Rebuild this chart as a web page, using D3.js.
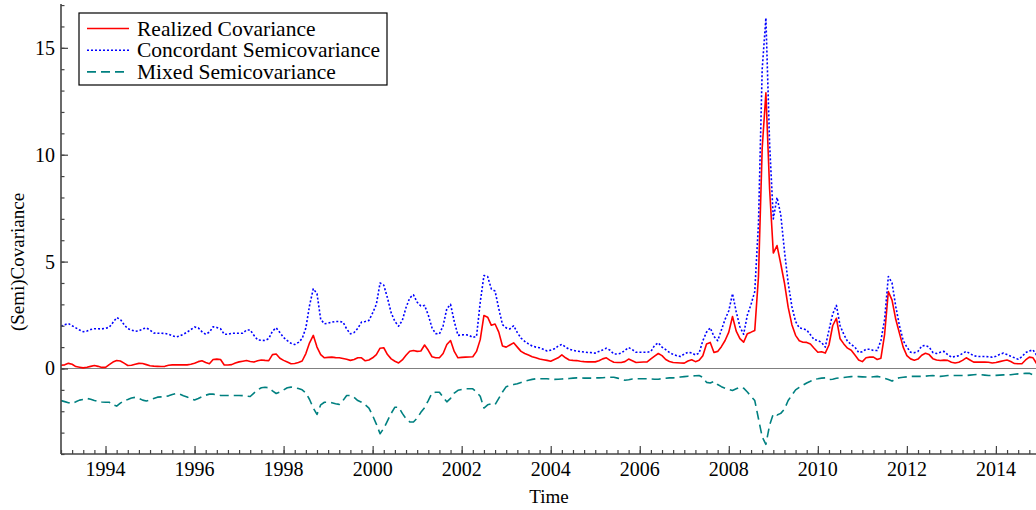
<!DOCTYPE html>
<html>
<head>
<meta charset="utf-8">
<script src="https://cdn.jsdelivr.net/npm/d3@7"></script>
<style>
  html, body { margin: 0; padding: 0; background: #fff; }
  #chart { width: 1036px; height: 510px; }
  text { font-family: "Liberation Serif", "Times New Roman", serif; fill: #000; }
</style>
</head>
<body>
<div id="chart"></div>
<script>
// monthly series, first point Jan 1993
const startYear = 1993;

const realized = [
  0.15, 0.17, 0.24, 0.2, 0.09, 0.06, 0.03, 0.06, 0.1, 0.14,
  0.1, 0.05, 0.05, 0.18, 0.3, 0.37, 0.35, 0.25, 0.14, 0.15,
  0.2, 0.24, 0.23, 0.18, 0.13, 0.11, 0.1, 0.09, 0.1, 0.15,
  0.17, 0.17, 0.17, 0.17, 0.17, 0.2, 0.25, 0.32, 0.36, 0.28,
  0.22, 0.42, 0.44, 0.42, 0.16, 0.16, 0.18, 0.26, 0.31, 0.34,
  0.37, 0.33, 0.3, 0.36, 0.4, 0.38, 0.37, 0.65, 0.68, 0.48,
  0.38, 0.3, 0.22, 0.23, 0.28, 0.35, 0.7, 1.2, 1.55, 1.0,
  0.65, 0.5, 0.52, 0.53, 0.51, 0.5, 0.47, 0.43, 0.38, 0.42,
  0.5, 0.5, 0.36, 0.4, 0.5, 0.65, 0.95, 0.97, 0.65, 0.45,
  0.34, 0.26, 0.4, 0.62, 0.81, 0.84, 0.8, 0.82, 1.1, 0.85,
  0.55, 0.5, 0.5, 0.7, 1.12, 1.31, 0.8, 0.5, 0.52, 0.53,
  0.54, 0.55, 0.8, 1.35, 2.48, 2.4, 2.02, 2.08, 1.7, 1.05,
  1.0, 1.1, 1.2, 1.0, 0.8, 0.7, 0.63, 0.55, 0.5, 0.44,
  0.41, 0.38, 0.34, 0.42, 0.5, 0.64, 0.5, 0.4, 0.38, 0.37,
  0.34, 0.32, 0.31, 0.31, 0.31, 0.36, 0.45, 0.5, 0.38, 0.29,
  0.28, 0.28, 0.32, 0.44, 0.36, 0.28, 0.29, 0.3, 0.31, 0.45,
  0.58, 0.7, 0.6, 0.42, 0.33, 0.28, 0.27, 0.26, 0.25, 0.35,
  0.41, 0.32, 0.38, 0.6, 1.15, 1.22, 0.75, 0.8, 1.02, 1.31,
  1.7, 2.43, 1.75, 1.4, 1.23, 1.63, 1.7, 1.78, 4.3, 10.3,
  12.9, 8.4, 5.4, 5.75, 4.9, 4.0, 2.87, 2.05, 1.55, 1.3,
  1.23, 1.22, 1.15, 0.95, 0.76, 0.78, 0.72, 1.1, 2.0, 2.35,
  1.39, 1.15, 0.95, 0.85, 0.63, 0.4, 0.32, 0.5, 0.53, 0.53,
  0.42, 0.48, 1.6, 3.6, 3.2, 2.3, 1.65, 1.0, 0.6, 0.45,
  0.39, 0.44, 0.62, 0.71, 0.65, 0.46, 0.4, 0.37, 0.39, 0.38,
  0.29, 0.26, 0.29, 0.38, 0.5, 0.4, 0.3, 0.3, 0.3, 0.3,
  0.29, 0.26, 0.28, 0.32, 0.36, 0.4, 0.33, 0.23, 0.22, 0.22,
  0.4, 0.53, 0.5, 0.22
];

const concordant = [
  1.98, 2.05, 2.1, 2.0, 1.9, 1.8, 1.72, 1.75, 1.82, 1.86,
  1.86, 1.85, 1.88, 1.93, 2.15, 2.38, 2.3, 2.05, 1.86, 1.8,
  1.74, 1.76, 1.85, 1.9, 1.8, 1.66, 1.65, 1.65, 1.64, 1.6,
  1.53, 1.48, 1.52, 1.6, 1.7, 1.82, 1.94, 1.9, 1.72, 1.6,
  1.7, 1.95, 1.92, 1.86, 1.6, 1.6, 1.65, 1.65, 1.65, 1.65,
  1.8, 1.8, 1.55, 1.34, 1.32, 1.31, 1.4, 1.75, 1.9, 1.68,
  1.45, 1.3, 1.18, 1.12, 1.22, 1.4, 1.9, 2.95, 3.73, 3.5,
  2.3, 2.09, 2.12, 2.17, 2.2, 2.2, 2.17, 1.85, 1.62, 1.68,
  1.88, 2.17, 2.2, 2.25, 2.6, 3.0, 4.0, 3.9, 3.3, 2.6,
  2.2, 1.98, 2.25, 2.85, 3.3, 3.45, 3.1, 2.92, 2.95, 2.5,
  1.9, 1.63, 1.62, 2.0, 2.8, 3.0, 2.2, 1.55, 1.57, 1.58,
  1.55, 1.45, 1.5, 3.1, 4.35, 4.3, 3.72, 3.62, 2.8, 2.05,
  1.9, 1.85, 2.0, 1.68, 1.42, 1.27, 1.15, 1.05, 1.0, 0.97,
  0.9, 0.82, 0.86, 0.92, 1.05, 1.13, 1.0, 0.9, 0.85, 0.81,
  0.79, 0.77, 0.75, 0.74, 0.72, 0.8, 0.87, 0.95, 0.85, 0.68,
  0.68, 0.72, 0.85, 0.98, 0.88, 0.76, 0.76, 0.76, 0.76, 0.8,
  1.08, 1.2, 1.0, 0.88, 0.75, 0.66, 0.6, 0.56, 0.68, 0.76,
  0.73, 0.63, 0.72, 1.3, 1.7, 1.9, 1.5, 1.3, 1.8, 2.3,
  2.7, 3.5, 2.65, 1.95, 1.6, 2.5, 3.0, 3.6, 6.8, 14.0,
  16.4, 10.5, 7.0, 8.0, 7.2, 5.5, 4.0, 2.9, 2.2, 1.9,
  1.86, 1.8, 1.58, 1.35, 1.31, 1.22, 1.0, 1.8, 2.55, 2.95,
  2.0, 1.6, 1.27, 1.12, 1.0, 0.75, 0.78, 0.9, 0.9, 0.84,
  0.84, 1.3, 2.3, 4.3, 4.0, 2.9, 2.0, 1.31, 1.0, 0.76,
  0.74, 0.8, 1.05, 1.08, 1.0, 0.75, 0.7, 0.76, 0.8, 0.65,
  0.53, 0.56, 0.6, 0.7, 0.8, 0.7, 0.6, 0.56, 0.56, 0.56,
  0.55, 0.53, 0.57, 0.66, 0.72, 0.65, 0.57, 0.5, 0.43, 0.55,
  0.74, 0.82, 0.87, 0.61
];

const mixed = [
  -1.5, -1.55, -1.6, -1.63, -1.56, -1.48, -1.45, -1.4, -1.44, -1.5,
  -1.53, -1.57, -1.58, -1.58, -1.7, -1.76, -1.62, -1.5, -1.45, -1.38,
  -1.35, -1.4, -1.48, -1.52, -1.48, -1.4, -1.34, -1.33, -1.32, -1.28,
  -1.22, -1.17, -1.2, -1.27, -1.33, -1.42, -1.47, -1.4, -1.32, -1.25,
  -1.2, -1.2, -1.23, -1.26, -1.26, -1.26, -1.26, -1.26, -1.26, -1.27,
  -1.29, -1.31, -1.15, -1.0, -0.9, -0.88, -0.9, -1.05, -1.17, -1.1,
  -1.0, -0.9, -0.87, -0.9, -0.94, -1.0, -1.15, -1.45, -1.85, -2.15,
  -1.7, -1.58, -1.58, -1.6, -1.65, -1.68, -1.5, -1.26, -1.26, -1.35,
  -1.5, -1.58, -1.7, -1.85, -2.2, -2.6, -3.05, -2.8, -2.45, -2.1,
  -1.81, -1.81, -2.1, -2.35, -2.5, -2.5, -2.32, -2.05, -1.83, -1.5,
  -1.15, -1.11, -1.11, -1.35, -1.56, -1.4, -1.15, -1.02, -0.98, -0.95,
  -0.95, -0.95, -1.1, -1.3, -1.85, -1.7, -1.65, -1.69, -1.4, -1.1,
  -0.85, -0.8, -0.75, -0.71, -0.65, -0.59, -0.55, -0.51, -0.48, -0.48,
  -0.48, -0.48, -0.5, -0.51, -0.5, -0.49, -0.48, -0.47, -0.45, -0.44,
  -0.44, -0.45, -0.45, -0.45, -0.44, -0.44, -0.43, -0.42, -0.41, -0.41,
  -0.45, -0.5, -0.55, -0.53, -0.49, -0.48, -0.48, -0.48, -0.48, -0.49,
  -0.5, -0.5, -0.48, -0.46, -0.44, -0.44, -0.42, -0.4, -0.38, -0.36,
  -0.35, -0.34, -0.33, -0.42, -0.65, -0.68, -0.6, -0.75, -0.85, -0.92,
  -0.98, -1.03, -0.95, -0.87, -0.92, -1.1, -1.3, -1.5, -2.35, -3.2,
  -3.55, -2.65, -2.12, -2.18, -2.1, -1.9, -1.5, -1.25, -1.0, -0.88,
  -0.78, -0.68, -0.6, -0.5, -0.48, -0.45, -0.44, -0.52, -0.5, -0.46,
  -0.44, -0.42, -0.4, -0.38, -0.37, -0.38, -0.39, -0.4, -0.41, -0.39,
  -0.37, -0.4, -0.46, -0.52, -0.59, -0.48, -0.43, -0.41, -0.39, -0.37,
  -0.37, -0.37, -0.37, -0.36, -0.34, -0.33, -0.35, -0.37, -0.35, -0.33,
  -0.33, -0.33, -0.33, -0.33, -0.33, -0.31, -0.29, -0.28, -0.29, -0.31,
  -0.33, -0.33, -0.32, -0.31, -0.3, -0.3, -0.29, -0.27, -0.25, -0.24,
  -0.23, -0.22, -0.3, -0.37
];

const yMajorTicks = [0, 5, 10, 15];
const xLabelYears = [1994, 1996, 1998, 2000, 2002, 2004, 2006, 2008, 2010, 2012, 2014];

const seriesList = [
  { name: "Realized Covariance", values: realized, color: "#ff0000", dash: null },
  { name: "Concordant Semicovariance", values: concordant, color: "#0000ff", dash: "2,2" },
  { name: "Mixed Semicovariance", values: mixed, color: "#008080", dash: "9,5" }
];

function renderChart() {
  const width = 1036;
  const height = 510;
  const left = 61;
  const top = 4;
  const bottom = 454;

  const x = d3.scaleLinear().domain([1993, 2015]).range([left, left + 22 * 44.52]);
  const y = d3.scaleLinear().domain([-4, 17.05]).range([bottom, top]);

  const svg = d3.select("#chart").append("svg")
    .attr("width", width)
    .attr("height", height)
    .attr("viewBox", [0, 0, width, height]);

  svg.append("defs").append("clipPath")
    .attr("id", "plotClip")
    .append("rect")
    .attr("x", left)
    .attr("y", 0)
    .attr("width", width - left)
    .attr("height", bottom);

  // zero line
  svg.append("line")
    .attr("x1", left).attr("x2", width)
    .attr("y1", y(0)).attr("y2", y(0))
    .attr("stroke", "#808080")
    .attr("stroke-width", 1.2);

  const line = d3.line()
    .x(function (d, i) { return x(startYear + i / 12); })
    .y(function (d) { return y(d); });

  const plot = svg.append("g").attr("clip-path", "url(#plotClip)");

  seriesList.forEach(function (s) {
    plot.append("path")
      .datum(s.values)
      .attr("d", line)
      .attr("fill", "none")
      .attr("stroke", s.color)
      .attr("stroke-width", 1.6)
      .attr("stroke-linejoin", "round")
      .attr("stroke-dasharray", s.dash);
  });

  // y axis: ticks pointing inward
  const yMajor = d3.axisRight(y).tickValues(yMajorTicks).tickSize(7).tickFormat("");
  const yMinor = d3.axisRight(y).tickValues(d3.range(-4, 18)).tickSize(3.5).tickFormat("");

  const yAxisG = svg.append("g").attr("transform", `translate(${left},0)`);
  yAxisG.call(yMinor);
  yAxisG.append("g").call(yMajor);
  yAxisG.selectAll(".domain").remove();
  yAxisG.selectAll("line").attr("stroke", "#444").attr("stroke-width", 1.2);

  svg.append("line")
    .attr("x1", left).attr("x2", left)
    .attr("y1", top).attr("y2", bottom)
    .attr("stroke", "#444")
    .attr("stroke-width", 1.6);

  svg.selectAll(".y-label")
    .data(yMajorTicks)
    .join("text")
    .attr("class", "y-label")
    .attr("x", left - 6)
    .attr("y", function (d) { return y(d) + 7; })
    .attr("text-anchor", "end")
    .style("font-size", "20px")
    .text(function (d) { return d; });

  // x axis
  const quarterTicks = d3.range(0, 88).map(function (q) { return 1993 + q / 4; });
  const xMinor = d3.axisTop(x).tickValues(quarterTicks).tickSize(4).tickFormat("");
  const xMajor = d3.axisTop(x).tickValues(xLabelYears).tickSize(8).tickFormat("");

  const xAxisG = svg.append("g").attr("transform", `translate(0,${bottom})`);
  xAxisG.call(xMinor);
  xAxisG.append("g").call(xMajor);
  xAxisG.selectAll(".domain").remove();
  xAxisG.selectAll("line").attr("stroke", "#444").attr("stroke-width", 1.2);

  svg.append("line")
    .attr("x1", left).attr("x2", width)
    .attr("y1", bottom).attr("y2", bottom)
    .attr("stroke", "#444")
    .attr("stroke-width", 1.6);

  svg.selectAll(".x-label")
    .data(xLabelYears)
    .join("text")
    .attr("class", "x-label")
    .attr("x", function (d) { return x(d); })
    .attr("y", 476)
    .attr("text-anchor", "middle")
    .style("font-size", "20px")
    .text(function (d) { return d; });

  svg.append("text")
    .attr("x", 549)
    .attr("y", 503)
    .attr("text-anchor", "middle")
    .style("font-size", "19px")
    .text("Time");

  svg.append("text")
    .attr("transform", "translate(24,262) rotate(-90)")
    .attr("text-anchor", "middle")
    .style("font-size", "19px")
    .text("(Semi)Covariance");

  renderLegend(svg);
}

function renderLegend(svg) {
  const g = svg.append("g").attr("transform", "translate(79,13)");

  g.append("rect")
    .attr("width", 308)
    .attr("height", 72)
    .attr("fill", "#fff")
    .attr("stroke", "#000")
    .attr("stroke-width", 1.2);

  seriesList.forEach(function (s, i) {
    const cy = 15.5 + i * 21.7;
    g.append("line")
      .attr("x1", 8).attr("x2", 50)
      .attr("y1", cy).attr("y2", cy)
      .attr("stroke", s.color)
      .attr("stroke-width", 1.6)
      .attr("stroke-dasharray", s.dash);
    g.append("text")
      .attr("x", 58)
      .attr("y", cy + 7)
      .style("font-size", "21.5px")
      .text(s.name);
  });
}

renderChart();
</script>
</body>
</html>
